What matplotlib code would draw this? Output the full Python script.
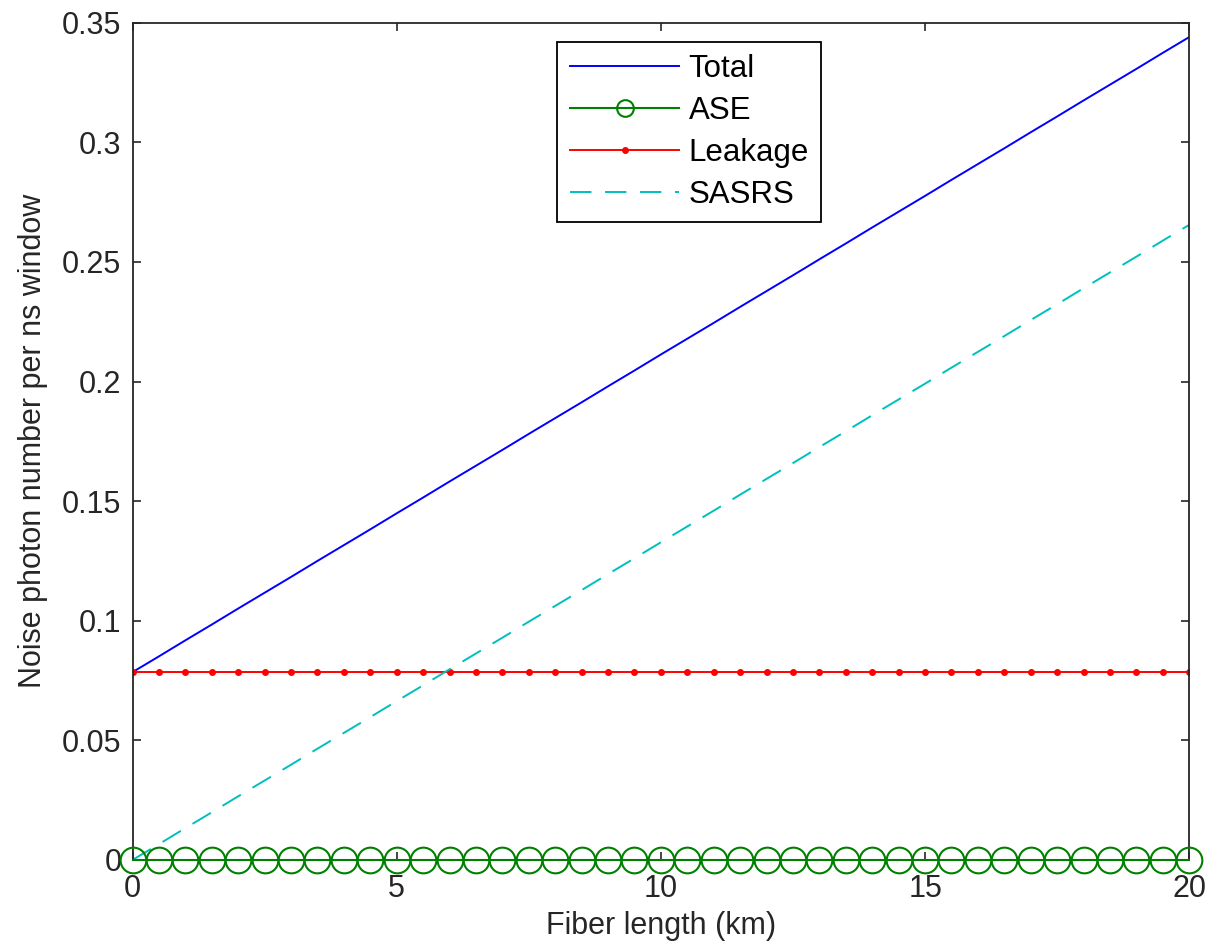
import matplotlib
matplotlib.use('agg')
import matplotlib.pyplot as plt

# fiber length (km), one point every 0.5 km
fiber_km = [0.0, 0.5, 1.0, 1.5, 2.0, 2.5, 3.0, 3.5, 4.0, 4.5,
            5.0, 5.5, 6.0, 6.5, 7.0, 7.5, 8.0, 8.5, 9.0, 9.5,
            10.0, 10.5, 11.0, 11.5, 12.0, 12.5, 13.0, 13.5, 14.0, 14.5,
            15.0, 15.5, 16.0, 16.5, 17.0, 17.5, 18.0, 18.5, 19.0, 19.5, 20.0]

total = [0.0785, 0.0851, 0.0918, 0.0984, 0.1051, 0.1117, 0.1183, 0.1250, 0.1316, 0.1382,
         0.1449, 0.1515, 0.1582, 0.1648, 0.1714, 0.1781, 0.1847, 0.1913, 0.1980, 0.2046,
         0.2113, 0.2179, 0.2245, 0.2312, 0.2378, 0.2444, 0.2511, 0.2577, 0.2644, 0.2710,
         0.2776, 0.2843, 0.2909, 0.2975, 0.3042, 0.3108, 0.3175, 0.3241, 0.3307, 0.3374, 0.3440]

ase = [0.0] * 41

leakage = [0.0785] * 41

sasrs = [0.0, 0.0066, 0.0133, 0.0199, 0.0266, 0.0332, 0.0398, 0.0465, 0.0531, 0.0597,
         0.0664, 0.0730, 0.0797, 0.0863, 0.0929, 0.0996, 0.1062, 0.1128, 0.1195, 0.1261,
         0.1328, 0.1394, 0.1460, 0.1527, 0.1593, 0.1659, 0.1726, 0.1792, 0.1859, 0.1925,
         0.1991, 0.2058, 0.2124, 0.2190, 0.2257, 0.2323, 0.2390, 0.2456, 0.2522, 0.2589, 0.2655]

xticks = [0, 5, 10, 15, 20]
yticks = [0, 0.05, 0.1, 0.15, 0.2, 0.25, 0.3, 0.35]
ytick_labels = ['0', '0.05', '0.1', '0.15', '0.2', '0.25', '0.3', '0.35']

plt.rcParams['font.family'] = ['Liberation Sans', 'DejaVu Sans']
plt.rcParams['font.size'] = 22

fig = plt.figure(figsize=(12.16, 9.46), dpi=100)
ax = fig.add_axes([0.109, 0.091, 0.869, 0.885])

ax.plot(fiber_km, total, '-', color='#0000ff', lw=1.4, label='Total')
ax.plot(fiber_km, ase, '-', marker='o', color='#008000', lw=1.5, ms=18.5, mfc='none', mew=1.5,
        label='ASE', clip_on=False, zorder=3)
ax.plot(fiber_km, leakage, '-', marker='.', color='#ff0000', lw=1.4, ms=8, label='Leakage')
ax.plot(fiber_km, sasrs, color='#00bfbf', lw=1.4, dashes=(11, 7), label='SASRS')

ax.set_xlim(0, 20)
ax.set_ylim(0, 0.35)
ax.set_xticks(xticks)
ax.set_yticks(yticks)
ax.set_yticklabels(ytick_labels)
ax.tick_params(direction='in', length=6, width=1.2, top=True, right=True, colors='#262626',
               labelcolor='#262626')
ax.tick_params(axis='x', pad=10)
ax.tick_params(axis='y', pad=8)
for spine in ax.spines.values():
    spine.set_color('#262626')
    spine.set_linewidth(1.3)

ax.set_xlabel('Fiber length (km)', color='#262626', labelpad=5)
ax.set_ylabel('Noise photon number per ns window', color='#262626', labelpad=10)

leg = ax.legend(loc='upper center', bbox_to_anchor=(0.527, 0.985), handlelength=3.5,
                fancybox=False, edgecolor='black', framealpha=1, borderpad=0.4,
                labelspacing=0.38, handletextpad=0.3, borderaxespad=0.2, fontsize=22.5)
leg.get_frame().set_linewidth(1.3)
leg.legend_handles[1].set_markersize(12)

plt.savefig('out.png', dpi=100)
